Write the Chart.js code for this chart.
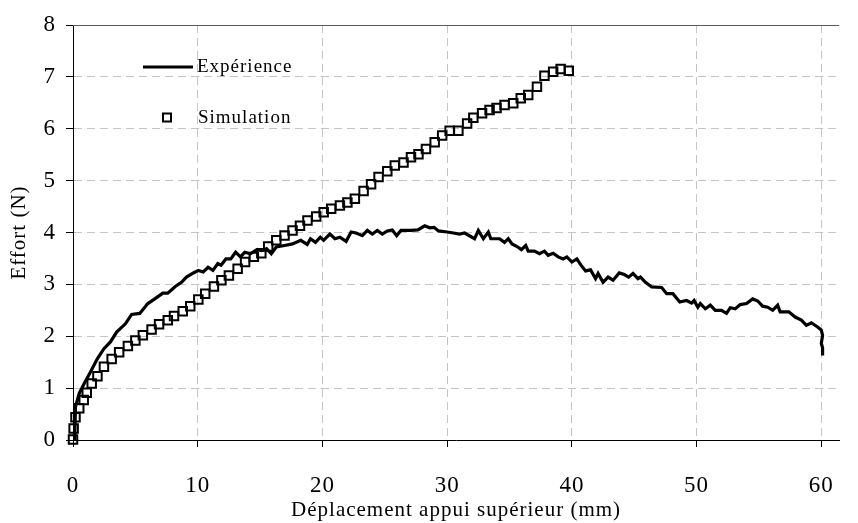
<!DOCTYPE html>
<html>
<head>
<meta charset="utf-8">
<script src="https://cdn.jsdelivr.net/npm/chart.js@4/dist/chart.umd.min.js"></script>
<style>
  html, body { margin: 0; padding: 0; background: #fff; }
</style>
</head>
<body>
<canvas id="effort" width="858" height="523"></canvas>
<script>
// Experience (measured curve)
const expX = [0.13, 0.2, 0.5, 0.9, 1.4, 1.96, 2.48, 3.0, 3.5, 4.2, 4.4, 4.7, 5.35, 6.0, 6.5, 7.2, 7.6, 8.2, 8.7, 9.1,
  9.65, 10.05, 10.44, 10.83, 11.22, 11.61, 11.87, 12.26, 12.65, 13.04, 13.43, 13.77, 14.22, 14.74, 15.13, 15.52, 15.9, 16.3, 16.96, 17.6,
  18.26, 18.78, 19.04, 19.44, 19.83, 20.09, 20.6, 21.0, 21.4, 21.9, 22.3, 22.7, 23.2, 23.6, 24.0, 24.4, 24.8, 25.2, 25.6, 25.95,
  26.3, 27.1, 27.65, 28.2, 28.6, 28.95, 29.3, 30.0, 30.5, 31.0, 31.4, 32.2, 32.5, 32.9, 33.3, 33.5, 34.2, 34.6, 34.9, 35.2,
  35.6, 35.95, 36.3, 36.5, 37.0, 37.4, 37.8, 38.1, 38.5, 38.9, 39.3, 39.6, 40.0, 40.4, 40.7, 41.1, 41.5, 41.9, 42.1, 42.5,
  42.9, 43.3, 43.8, 44.2, 44.55, 44.9, 45.3, 45.5, 45.9, 46.4, 47.2, 47.6, 48.1, 48.65, 49.2, 49.6, 49.8, 50.1, 50.3, 50.7,
  51.1, 51.5, 52.0, 52.4, 52.7, 53.1, 53.5, 54.0, 54.5, 54.9, 55.3, 55.7, 56.1, 56.5, 56.7, 57.4, 57.9, 58.4, 58.8, 59.2,
  59.7, 60.0, 60.1, 60.0, 60.1, 60.1]
const expY = [0, 0.64, 0.90, 1.09, 1.31, 1.57, 1.76, 1.89, 2.08, 2.24, 2.31, 2.42, 2.44, 2.63, 2.71, 2.83, 2.83, 2.96, 3.04, 3.14,
  3.22, 3.27, 3.24, 3.33, 3.27, 3.40, 3.37, 3.49, 3.49, 3.62, 3.53, 3.62, 3.59, 3.67, 3.65, 3.69, 3.59, 3.72, 3.75, 3.78,
  3.85, 3.77, 3.88, 3.81, 3.91, 3.85, 3.97, 3.88, 3.91, 3.83, 4.01, 3.99, 3.94, 4.04, 3.97, 4.04, 3.97, 4.03, 4.05, 3.94,
  4.04, 4.04, 4.05, 4.13, 4.09, 4.10, 4.03, 4.01, 3.99, 3.97, 3.99, 3.88, 4.04, 3.88, 4.01, 3.88, 3.88, 3.81, 3.88, 3.78,
  3.73, 3.67, 3.75, 3.64, 3.64, 3.59, 3.64, 3.56, 3.60, 3.53, 3.49, 3.53, 3.43, 3.49, 3.38, 3.26, 3.28, 3.11, 3.21, 3.04,
  3.14, 3.08, 3.22, 3.19, 3.14, 3.21, 3.11, 3.14, 3.04, 2.95, 2.94, 2.82, 2.82, 2.66, 2.69, 2.64, 2.69, 2.56, 2.63, 2.53,
  2.60, 2.50, 2.50, 2.44, 2.55, 2.53, 2.61, 2.63, 2.72, 2.68, 2.58, 2.56, 2.50, 2.60, 2.47, 2.47, 2.37, 2.31, 2.21, 2.26,
  2.18, 2.12, 2.02, 1.86, 1.78, 1.63]

// Simulation (square markers)
const simX = [0, 0.05, 0.2, 0.5, 0.86, 1.1, 1.5, 1.96, 2.48, 3.1, 3.7, 4.4, 5.0, 5.6, 6.3, 6.9, 7.6, 8.1, 8.8, 9.4,
  10.05, 10.6, 11.3, 11.9, 12.5, 13.2, 13.8, 14.5, 15.1, 15.65, 16.3, 16.96, 17.6, 18.2, 18.8, 19.5, 20.1, 20.7, 21.4, 22.0,
  22.6, 23.3, 23.9, 24.5, 25.2, 25.8, 26.5, 27.1, 27.7, 28.3, 29.0, 29.6, 30.2, 30.9, 31.6, 32.1, 32.8, 33.4, 33.96, 34.6,
  35.3, 35.9, 36.5, 37.2, 37.8, 38.5, 39.1, 39.75]
const simY = [0.01, 0.22, 0.44, 0.61, 0.77, 0.91, 1.09, 1.23, 1.41, 1.56, 1.69, 1.81, 1.92, 2.02, 2.13, 2.23, 2.31, 2.39, 2.48, 2.58,
  2.71, 2.82, 2.96, 3.08, 3.17, 3.30, 3.43, 3.53, 3.60, 3.73, 3.85, 3.94, 4.04, 4.13, 4.23, 4.31, 4.39, 4.46, 4.52, 4.58,
  4.65, 4.80, 4.93, 5.07, 5.18, 5.29, 5.35, 5.45, 5.51, 5.61, 5.74, 5.87, 5.96, 5.96, 6.10, 6.21, 6.30, 6.36, 6.40, 6.46,
  6.49, 6.59, 6.65, 6.81, 7.02, 7.10, 7.15, 7.12]

const xTicks = [0, 10, 20, 30, 40, 50, 60]
const yTicks = [0, 1, 2, 3, 4, 5, 6, 7, 8]

const SERIF = "'Liberation Serif', 'Times New Roman', serif"
const GRID_COLOR = '#c4c4c4'

const toPoints = (xs, ys) => xs.map((x, i) => ({ x: x, y: ys[i] }))

// spacing a bit wider like the original, plus a solid frame line on top
const framePlugin = {
  id: 'frame',
  beforeDraw: chart => {
    chart.ctx.letterSpacing = '1px'
  },
  beforeDatasetsDraw: chart => {
    const { ctx, chartArea } = chart
    ctx.save()
    ctx.strokeStyle = '#5a5a5a'
    ctx.lineWidth = 1
    ctx.beginPath()
    ctx.moveTo(chartArea.left, chartArea.top + 0.5)
    ctx.lineTo(chartArea.right, chartArea.top + 0.5)
    ctx.stroke()
    ctx.restore()
  },
}

// legend sits inside the plot, top left
const legendPlugin = {
  id: 'innerLegend',
  afterDraw: chart => {
    const ctx = chart.ctx
    ctx.save()
    ctx.letterSpacing = '1px'
    ctx.font = '19px ' + SERIF
    ctx.fillStyle = '#000'
    ctx.textBaseline = 'middle'
    ctx.strokeStyle = '#000'
    ctx.lineWidth = 3
    ctx.beginPath()
    ctx.moveTo(143, 67)
    ctx.lineTo(193, 67)
    ctx.stroke()
    ctx.fillText('Expérience', 197, 67)
    ctx.lineWidth = 2
    ctx.strokeRect(163, 113.5, 8, 8)
    ctx.fillText('Simulation', 198, 118)
    ctx.restore()
  },
}

const ctxEffort = document.getElementById('effort').getContext('2d')

const dataEffort = {
  datasets: [
    {
      label: 'Expérience',
      data: toPoints(expX, expY),
      showLine: true,
      borderColor: '#000',
      borderWidth: 3.2,
      pointRadius: 0,
      tension: 0,
      clip: false,
    },
    {
      label: 'Simulation',
      data: toPoints(simX, simY),
      showLine: false,
      pointStyle: 'rect',
      pointRadius: 6,
      borderColor: '#000',
      borderWidth: 2,
      backgroundColor: 'rgba(255,255,255,0)',
      clip: false,
    },
  ],
}

const configEffort = {
  type: 'scatter',
  data: dataEffort,
  options: {
    responsive: false,
    animation: false,
    layout: { padding: { top: 25, right: 0, left: 0, bottom: 0 } },
    plugins: {
      legend: { display: false },
      tooltip: { enabled: false },
    },
    scales: {
      x: {
        type: 'linear',
        min: 0,
        max: 61.43,
        afterBuildTicks: scale => {
          scale.ticks = xTicks.map(v => ({ value: v }))
        },
        afterFit: scale => {
          scale.height = 83
        },
        grid: {
          color: c => (c.tick && c.tick.value === 0 ? 'rgba(0,0,0,0)' : GRID_COLOR),
          tickColor: '#000',
          tickLength: 7,
          tickBorderDash: [],
        },
        border: { color: '#000', width: 1, dash: [8, 5] },
        ticks: {
          color: '#000',
          font: { family: SERIF, size: 23 },
          padding: 25,
          maxRotation: 0,
        },
        title: {
          display: true,
          text: 'Déplacement appui supérieur (mm)',
          color: '#000',
          font: { family: SERIF, size: 21 },
          padding: { top: 0, bottom: 0 },
        },
      },
      y: {
        type: 'linear',
        min: 0,
        max: 8,
        afterBuildTicks: scale => {
          scale.ticks = yTicks.map(v => ({ value: v }))
        },
        afterFit: scale => {
          scale.width = 73
        },
        grid: {
          color: c => (c.tick && (c.tick.value === 0 || c.tick.value === 8) ? 'rgba(0,0,0,0)' : GRID_COLOR),
          tickColor: '#000',
          tickLength: 7,
          tickBorderDash: [],
        },
        border: { color: '#000', width: 1, dash: [8, 5] },
        ticks: {
          color: '#000',
          font: { family: SERIF, size: 23 },
          padding: 10,
        },
        title: {
          display: true,
          text: 'Effort (N)',
          color: '#000',
          font: { family: SERIF, size: 21 },
          padding: { top: 7, bottom: 0 },
        },
      },
    },
  },
  plugins: [framePlugin, legendPlugin],
}

const EffortChart = new Chart(ctxEffort, configEffort)
</script>
</body>
</html>
